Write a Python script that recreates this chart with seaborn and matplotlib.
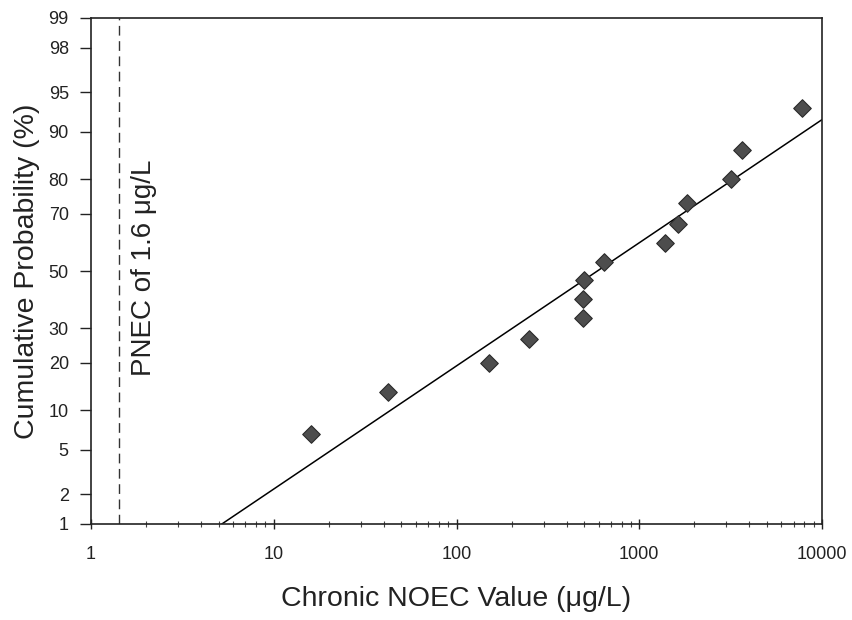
import numpy as np
import pandas as pd
import matplotlib
matplotlib.use("Agg")
import matplotlib.pyplot as plt
import seaborn as sns
from statistics import NormalDist

# ---- data ----
noec_values = [16, 42, 150, 250, 490, 495, 500, 640, 1380, 1630, 1820, 3180, 3650, 7780]
cum_prob = [6.7, 13.3, 20.0, 26.7, 33.3, 40.0, 46.7, 53.3, 60.0, 66.7, 73.3, 80.0, 86.7, 93.3]
fit_x = [5.2, 10000]
fit_p = [1.0, 91.8]
pnec_x = 1.42
y_ticks = [1, 2, 5, 10, 20, 30, 50, 70, 80, 90, 95, 98, 99]
x_ticks = [1, 10, 100, 1000, 10000]

sns.set_theme(style="white")
plt.rcParams['font.family'] = ['Liberation Sans', 'DejaVu Sans']

_nd = NormalDist()
_ppf = np.vectorize(lambda p: _nd.inv_cdf(min(max(p / 100.0, 1e-9), 1 - 1e-9)), otypes=[float])
_cdf = np.vectorize(lambda z: _nd.cdf(z) * 100.0, otypes=[float])


def forward(p):
    return _ppf(np.asarray(p, dtype=float))


def inverse(z):
    return _cdf(np.asarray(z, dtype=float))


fig = plt.figure(figsize=(8.52, 6.2), dpi=100)
ax = fig.add_axes([91 / 852, 96 / 620, (822 - 91) / 852, (524 - 18) / 620])

df = pd.DataFrame({"x": noec_values, "p": cum_prob})
fit_df = pd.DataFrame({"x": fit_x, "p": fit_p})

ax.set_xscale("log")
ax.set_yscale("function", functions=(forward, inverse))

sns.lineplot(data=fit_df, x="x", y="p", ax=ax, color="black", linewidth=1.1)
sns.scatterplot(data=df, x="x", y="p", ax=ax, marker="D", s=80,
                color="#4d4d4d", edgecolor="#2a2a2a", linewidth=0.8, zorder=3)
ax.axvline(pnec_x, color="#333333", linestyle=(0, (7, 4)), linewidth=1.0)

ax.text(1.95, 51, "PNEC of 1.6 μg/L", rotation=90, ha="center", va="center",
        fontsize=20, color="#222222")

ax.set_xlim(1, 10000)
ax.set_ylim(1, 99)
ax.set_yticks(y_ticks)
ax.set_yticklabels([str(t) for t in y_ticks])
ax.yaxis.set_minor_locator(matplotlib.ticker.NullLocator())
ax.set_xticks(x_ticks)
ax.set_xticklabels([str(t) for t in x_ticks])
ax.xaxis.set_minor_locator(matplotlib.ticker.LogLocator(base=10, subs=np.arange(2, 10)))
ax.xaxis.set_minor_formatter(matplotlib.ticker.NullFormatter())

ax.tick_params(axis="y", which="major", direction="out", length=8, width=1,
               labelsize=13, colors="#222222", left=True, pad=8)
ax.tick_params(axis="x", which="major", direction="inout", length=7, width=1,
               labelsize=13, colors="#222222", bottom=True, pad=12)
ax.tick_params(axis="x", which="minor", direction="inout", length=5, width=0.8,
               bottom=True, colors="#444444")

for s in ax.spines.values():
    s.set_color("#222222")
    s.set_linewidth(1.2)

ax.set_xlabel("Chronic NOEC Value (μg/L)", fontsize=20.5, color="#222222", labelpad=17)
ax.set_ylabel("Cumulative Probability (%)", fontsize=20.5, color="#222222", labelpad=6)

fig.savefig("out.png", dpi=100, facecolor="white")
